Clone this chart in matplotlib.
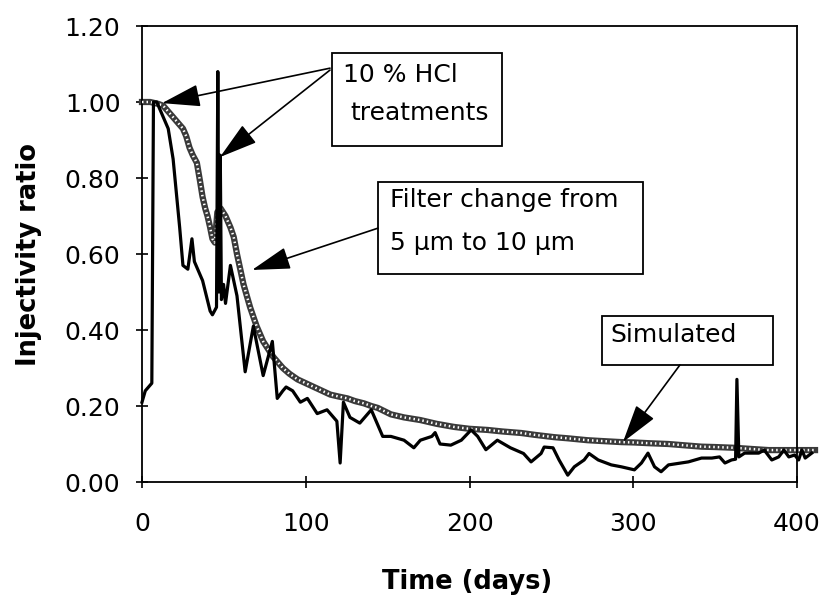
import numpy as np
import matplotlib
matplotlib.use('Agg')
import matplotlib.pyplot as plt
from matplotlib.patches import Rectangle

plt.rcParams['font.family'] = ['DejaVu Sans']

measured_days = [0, 2, 5, 6, 7, 9, 12, 16, 19, 21, 23, 25, 28, 30.5, 32, 34, 37,
                 41.6, 43, 45.5, 46.3, 47, 47.8, 48.5, 49.8, 51, 54, 58, 63, 68,
                 74, 79.6, 82.6, 86, 88, 92, 96.7, 101, 107, 113, 119, 121, 123,
                 127, 133, 140, 147, 152, 160, 166, 170, 177, 179, 182, 188.6,
                 195, 201, 205, 210, 217, 225, 233, 237.6, 243.7, 245.6, 251,
                 254.7, 260, 264, 270, 273, 278.6, 286.6, 292.7, 300.7, 305, 309,
                 313, 317, 321.5, 333.7, 341.7, 348, 352.7, 356, 360, 362.5,
                 363.3, 364.5, 368, 376.6, 380, 384.6, 388.8, 392, 395, 398.6,
                 401, 403, 405, 409]
measured_ratio = [0.21, 0.24, 0.255, 0.26, 1.0, 1.0, 0.97, 0.93, 0.85, 0.76, 0.67,
                  0.57, 0.56, 0.64, 0.58, 0.56, 0.53, 0.45, 0.44, 0.46, 1.08,
                  0.50, 0.86, 0.48, 0.52, 0.47, 0.57, 0.49, 0.29, 0.41, 0.28,
                  0.37, 0.22, 0.24, 0.25, 0.24, 0.21, 0.22, 0.18, 0.19, 0.16,
                  0.05, 0.21, 0.17, 0.155, 0.19, 0.12, 0.12, 0.11, 0.09, 0.11,
                  0.12, 0.13, 0.10, 0.097, 0.11, 0.137, 0.12, 0.085, 0.11, 0.09,
                  0.075, 0.053, 0.075, 0.092, 0.09, 0.058, 0.018, 0.04, 0.058,
                  0.075, 0.058, 0.045, 0.04, 0.032, 0.05, 0.076, 0.04, 0.027,
                  0.045, 0.053, 0.063, 0.063, 0.066, 0.05, 0.058, 0.06, 0.27,
                  0.066, 0.076, 0.076, 0.084, 0.058, 0.066, 0.084, 0.066, 0.071,
                  0.058, 0.084, 0.063, 0.076]

# Simulated injectivity ratio
sim_days = [0, 5, 10, 13, 16, 19, 22, 25, 27, 29, 31, 33.5, 35.5, 37, 38.6, 40,
            41.6, 43, 44.5, 46, 48, 51, 54, 56, 58, 60, 62, 64, 66, 68, 70, 72,
            74, 77, 80, 83, 86, 90, 95, 100, 105, 110, 115, 120, 125.5, 130,
            135.5, 140, 144, 152, 160, 170, 180, 190.5, 200, 211, 220, 231.5,
            240, 251.7, 260, 272, 280, 292.7, 300.7, 310, 321.5, 330, 341.7,
            350, 362, 372, 382.7, 392, 403, 411]
sim_ratio = [1.0, 1.0, 0.995, 0.99, 0.975, 0.96, 0.945, 0.93, 0.91, 0.88, 0.86,
             0.84, 0.79, 0.75, 0.72, 0.70, 0.67, 0.64, 0.63, 0.71, 0.72, 0.70,
             0.67, 0.645, 0.60, 0.56, 0.52, 0.49, 0.46, 0.435, 0.41, 0.39, 0.37,
             0.35, 0.33, 0.315, 0.30, 0.285, 0.27, 0.26, 0.25, 0.24, 0.23,
             0.225, 0.22, 0.213, 0.207, 0.20, 0.195, 0.178, 0.17, 0.163, 0.153,
             0.145, 0.14, 0.137, 0.133, 0.129, 0.124, 0.118, 0.115, 0.11,
             0.108, 0.105, 0.104, 0.102, 0.10, 0.097, 0.093, 0.092, 0.09, 0.087,
             0.084, 0.084, 0.084, 0.084]

x_ticks = [0, 100, 200, 300, 400]
y_ticks = [0.0, 0.2, 0.4, 0.6, 0.8, 1.0, 1.2]

W, H = 823, 601
fig = plt.figure(figsize=(W / 100, H / 100), dpi=100)
ax = fig.add_axes([142 / W, 1 - 482 / H, (797 - 142) / W, (482 - 26) / H])

# simulated curve: chain of small hollow circles
ax.plot(sim_days, sim_ratio, color='#3a3a3a', lw=4.5, clip_on=False, zorder=2)
ax.plot(sim_days, sim_ratio, color='white', lw=1.8, linestyle=(0, (0.6, 1.2)),
        clip_on=False, zorder=3)
# measured curve
ax.plot(measured_days, measured_ratio, color='black', lw=2.3, clip_on=False,
        zorder=4)

ax.set_xlim(0, 400)
ax.set_ylim(0, 1.2)
ax.set_xticks(x_ticks)
ax.set_yticks(y_ticks)
ax.set_yticklabels([f'{v:.2f}' for v in y_ticks])
ax.tick_params(direction='inout', length=9, width=1.2, labelsize=18)
ax.tick_params(axis='x', pad=17)
ax.tick_params(axis='y', pad=11)
for s in ax.spines.values():
    s.set_linewidth(1.3)

ax.set_xlabel('Time (days)', fontsize=18.5, fontweight='bold')
ax.set_ylabel('Injectivity ratio', fontsize=18.5, fontweight='bold')
ax.xaxis.set_label_coords(0.497, -0.19)
ax.yaxis.set_label_coords(-0.153, 0.5)

# annotation boxes
boxes = [
    (116, 0.884, 104, 0.246),
    (144.1, 0.547, 161.9, 0.242),
    (281, 0.308, 104.3, 0.129),
]
for bx, by, bw, bh in boxes:
    ax.add_patch(Rectangle((bx, by), bw, bh, fill=True, facecolor='white',
                           edgecolor='black', lw=1.3, clip_on=False, zorder=5))

txt = dict(fontsize=18, va='center', ha='left', zorder=6)
ax.text(123, 1.071, '10 % HCl', **txt)
ax.text(127, 0.971, 'treatments', **txt)
ax.text(151.4, 0.742, 'Filter change from', **txt)
ax.text(151.4, 0.629, '5 \u03bcm to 10 \u03bcm', **txt)
ax.text(285.8, 0.387, 'Simulated', **txt)

arrows = [
    ((114.8, 1.089), (12.2, 0.997)),
    ((114.8, 1.084), (47.6, 0.855)),
    ((144.1, 0.668), (67.2, 0.558)),
    ((328.5, 0.308), (293.7, 0.105)),
]
for start, tip in arrows:
    ax.annotate('', xy=tip, xytext=start,
                arrowprops=dict(arrowstyle='-|>,head_length=1.2,head_width=0.35',
                                mutation_scale=20, lw=1.2, color='black',
                                shrinkA=0, shrinkB=0),
                zorder=7, annotation_clip=False)

plt.savefig('out.png', dpi=100)
